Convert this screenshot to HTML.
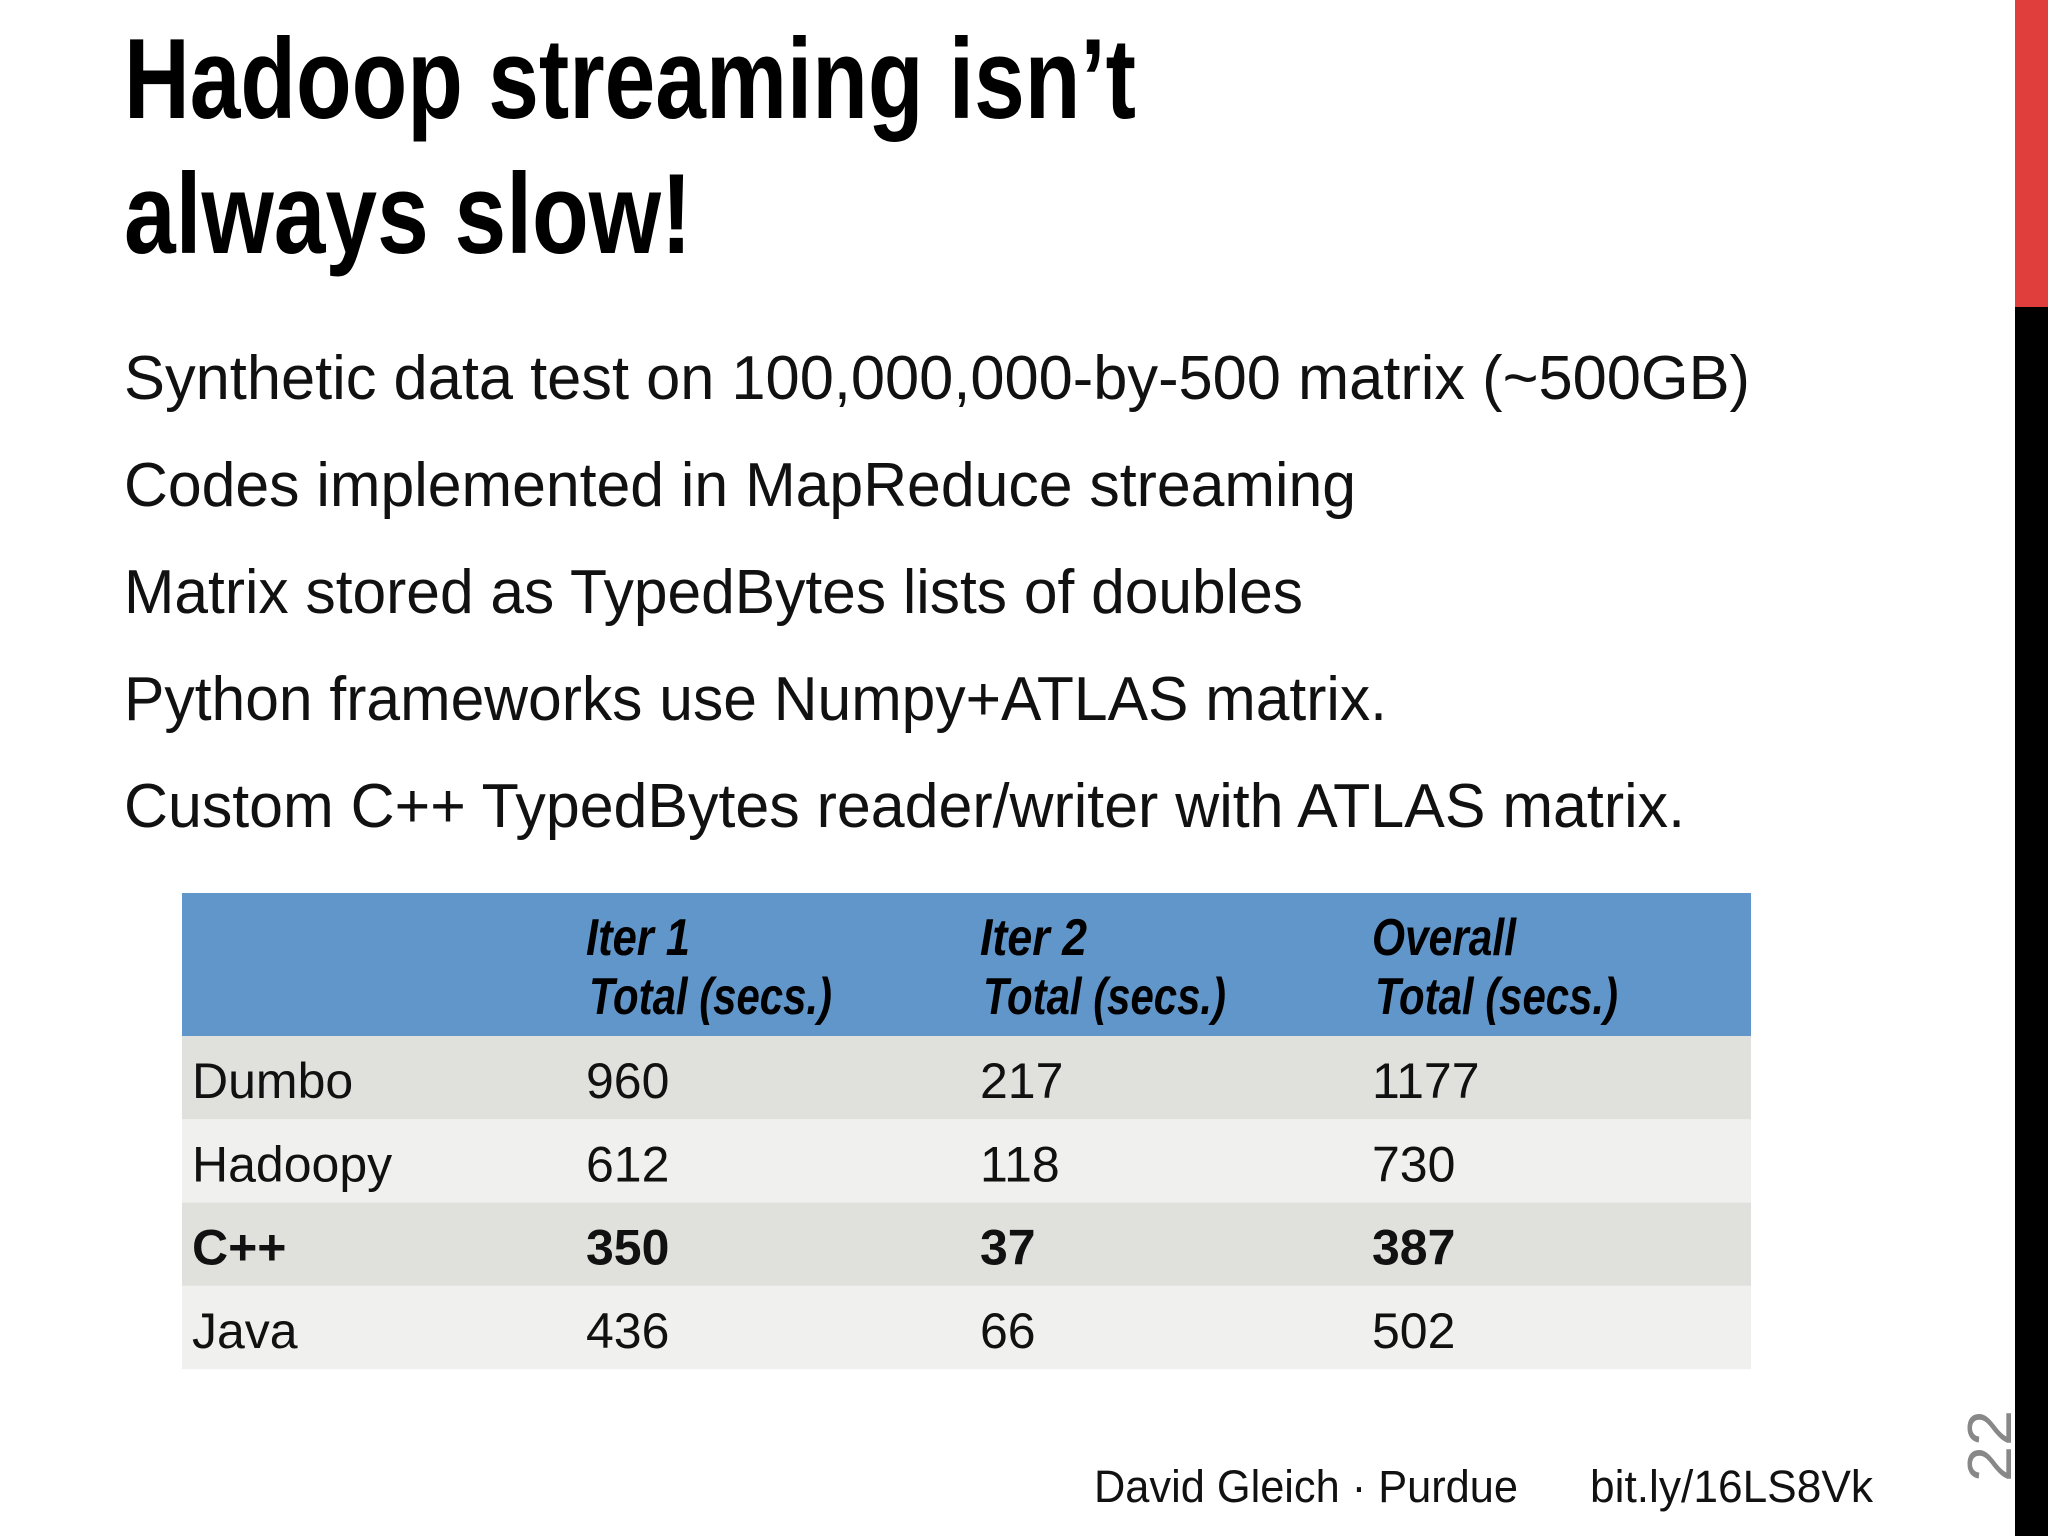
<!DOCTYPE html>
<html><head><meta charset="utf-8"><style>
html,body{margin:0;padding:0;background:#fff;}
svg{display:block;}
</style></head><body>
<svg id="slide" width="2048" height="1536" viewBox="0 0 2048 1536" xmlns="http://www.w3.org/2000/svg" font-family="Liberation Sans, sans-serif">
<rect x="0" y="0" width="2048" height="1536" fill="#fff"/>
<rect x="2015" y="0" width="33" height="307" fill="#e03e3c"/>
<rect x="2015" y="307" width="33" height="1229" fill="#000"/>
<g font-family="Liberation Sans Narrow, Liberation Sans, sans-serif" font-weight="bold" font-size="114" fill="#000">
<text x="124" y="118" textLength="1012" lengthAdjust="spacingAndGlyphs">Hadoop streaming isn’t</text>
<text x="124" y="253" textLength="568" lengthAdjust="spacingAndGlyphs">always slow!</text>
</g>
<g font-size="62" fill="#111">
<text x="124" y="399" textLength="1626" lengthAdjust="spacingAndGlyphs">Synthetic data test on 100,000,000-by-500 matrix (~500GB)</text>
<text x="124" y="506" textLength="1232" lengthAdjust="spacingAndGlyphs">Codes implemented in MapReduce streaming</text>
<text x="124" y="613" textLength="1179" lengthAdjust="spacingAndGlyphs">Matrix stored as TypedBytes lists of doubles</text>
<text x="124" y="720" textLength="1263" lengthAdjust="spacingAndGlyphs">Python frameworks use Numpy+ATLAS matrix.</text>
<text x="124" y="827" textLength="1561" lengthAdjust="spacingAndGlyphs">Custom C++ TypedBytes reader/writer with ATLAS matrix.</text>
</g>
<g id="table"></g>
<g font-size="45" fill="#111">
<text x="1094" y="1502" textLength="424" lengthAdjust="spacingAndGlyphs">David Gleich · Purdue</text>
<text x="1590" y="1502" textLength="283" lengthAdjust="spacingAndGlyphs">bit.ly/16LS8Vk</text>
</g>
<text transform="translate(2011,1482) rotate(-90)" font-size="62" fill="#888" textLength="72" lengthAdjust="spacingAndGlyphs">22</text>
</svg>
<script>
const rowLabels = ["Dumbo", "Hadoopy", "C++", "Java"];
const iter1 = [960, 612, 350, 436];
const iter2 = [217, 118, 37, 66];
const overall = [1177, 730, 387, 502];
const headLine1 = ["Iter 1", "Iter 2", "Overall"];
const headLine1W = [104, 107, 144];
const boldRow = [false, false, true, false];

const NS = "http://www.w3.org/2000/svg";
const g = document.getElementById('table');
const left = 182, right = 1751, headTop = 893, headBot = 1036, rowH = 83.3;
const colX = [192, 586, 980, 1372];
function mk(tag, attrs, parent) {
  const e = document.createElementNS(NS, tag);
  for (const k in attrs) e.setAttribute(k, attrs[k]);
  parent.appendChild(e);
  return e;
}
const hdr = mk('rect', {x:left, y:headTop, width:right-left, height:headBot-headTop, fill:'#6196ca'}, g);


headLine1.forEach((h, i) => {
  const t1 = mk('text', {x:colX[i+1], y:955, 'font-family':'Liberation Sans Narrow, Liberation Sans, sans-serif', 'font-weight':'bold', 'font-style':'italic', 'font-size':52, fill:'#000', textLength:headLine1W[i], lengthAdjust:'spacingAndGlyphs'}, g);
  t1.textContent = h;
  
  
  const t2 = mk('text', {x:colX[i+1]+3, y:1014, 'font-family':'Liberation Sans Narrow, Liberation Sans, sans-serif', 'font-weight':'bold', 'font-style':'italic', 'font-size':52, fill:'#000', textLength:243, lengthAdjust:'spacingAndGlyphs'}, g);
  t2.textContent = 'Total (secs.)';
  
  
});
rowLabels.forEach((lab, r) => {
  const y0 = headBot + r * rowH;
  const bg = mk('rect', {x:left, y:y0, width:right-left, height:rowH, fill: r % 2 === 0 ? '#e0e0dc' : '#f0f0ee'}, g);
  
  
  const vals = [lab, iter1[r], iter2[r], overall[r]];
  vals.forEach((v, c) => {
    const t = mk('text', {x:colX[c], y:y0 + 62, 'font-size':50, fill:'#111', 'font-weight': boldRow[r] ? 'bold' : 'normal'}, g);
    t.textContent = String(v);
    
    
  });
});
</script>
</body></html>
